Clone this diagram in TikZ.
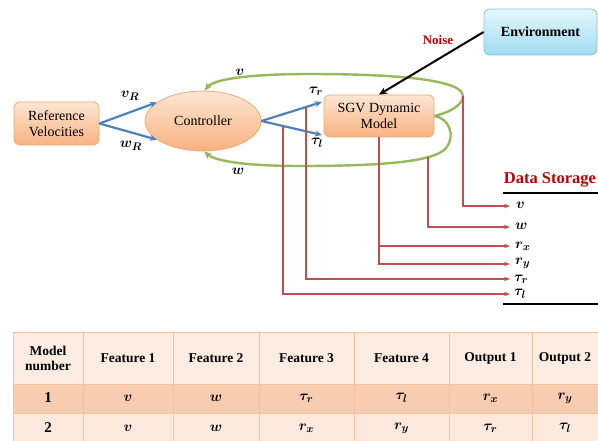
\documentclass[tikz,border=0pt]{standalone}
\usepackage{fontspec}
\setmainfont{Liberation Serif}
\usepackage{amsmath,bm}
\usetikzlibrary{arrows.meta,calc,shapes.geometric}
\definecolor{OrTop}{RGB}{253,230,212}
\definecolor{OrBot}{RGB}{247,178,128}
\definecolor{OrBorder}{RGB}{240,170,115}
\definecolor{BlTop}{RGB}{228,247,252}
\definecolor{BlBot}{RGB}{160,220,242}
\definecolor{BlBorder}{RGB}{125,195,225}
\definecolor{LineBlue}{RGB}{79,129,189}
\definecolor{LineGreen}{RGB}{150,185,90}
\definecolor{LineRed}{RGB}{192,80,77}
\definecolor{TxtRed}{RGB}{192,0,0}
\definecolor{TabHead}{RGB}{253,236,226}
\definecolor{TabRowA}{RGB}{248,204,176}
\definecolor{TabRowB}{RGB}{252,232,220}
\definecolor{TabGrid}{RGB}{244,195,158}
\begin{document}
\begin{tikzpicture}[x=1pt,y=-1pt,
  obox/.style={draw=OrBorder, line width=0.8pt, rounded corners=6pt, top color=OrTop, bottom color=OrBot, align=center, inner sep=0pt, font=\fontsize{14}{16}\selectfont},
  bbox/.style={draw=BlBorder, line width=0.8pt, rounded corners=6pt, top color=BlTop, bottom color=BlBot, align=center, inner sep=0pt, font=\fontsize{14}{16}\selectfont\bfseries},
  oell/.style={ellipse, draw=OrBorder, line width=0.8pt, top color=OrTop, bottom color=OrBot, inner sep=0pt, font=\fontsize{14}{16}\selectfont},
  bluearr/.style={draw=LineBlue, line width=2.2pt, -{Stealth[length=7pt,width=6pt]}},
  greenarr/.style={draw=LineGreen, line width=2.4pt, -{Stealth[length=8pt,width=7pt]}},
  redarr/.style={draw=LineRed, line width=1.5pt, -{Stealth[length=6pt,width=4.5pt]}},
  mlabel/.style={inner sep=0pt, font=\fontsize{15.5}{17}\selectfont},
  slabel/.style={inner sep=0pt, anchor=west, font=\fontsize{15}{17}\selectfont},
  thead/.style={align=center, inner sep=0pt, font=\fontsize{13.5}{15}\selectfont\bfseries},
  tcell/.style={inner sep=0pt, font=\fontsize{15}{17}\selectfont\bfseries}
]
\useasboundingbox (0,0) rectangle (598,441);
\begin{scope}
\clip (0,0) rectangle (598,441);

% ---------- nodes ----------
\node[obox, minimum width=85pt, minimum height=43pt] (ref) at (56.5,123.5) {Reference\\Velocities};
\node[oell, minimum width=116pt, minimum height=60pt] (ctrl) at (203,121) {Controller};
\node[obox, minimum width=110pt, minimum height=42pt] (sgv) at (379,116) {SGV Dynamic\\Model};
\node[bbox, minimum width=113pt, minimum height=46pt] (env) at (540.5,32) {Environment};

% ---------- coordinates ----------
\coordinate (tr) at (322,102);
\coordinate (tl) at (322,135);
\coordinate (vsrc) at (463,96);
\coordinate (wsrc) at (428,157);
\coordinate (trsrc) at ($(ctrl.east)!0.74!(tr)$);
\coordinate (tlsrc) at ($(ctrl.east)!0.355!(tl)$);
\coordinate (dv) at (510,206);
\coordinate (dw) at (510,227);
\coordinate (drx) at (510,246);
\coordinate (dry) at (510,264);
\coordinate (dtr) at (510,279);
\coordinate (dtl) at (510,294);

% ---------- blue arrows ----------
\draw[bluearr] (ref.east) -- (ctrl.158);
\draw[bluearr] (ref.east) -- (ctrl.202);
\draw[bluearr] (ctrl.east) -- (tr);
\draw[bluearr] (ctrl.east) -- (tl);
\node[mlabel] (lvr) at (130,96) {$\bm{v}_{\bm{R}}$};
\node[mlabel] (lwr) at (131,146) {$\bm{w}_{\bm{R}}$};
\node[mlabel] (ltr) at (316,91) {$\bm{\tau}_{\bm{r}}$};
\node[mlabel] (ltl) at (317,143) {$\bm{\tau}_{\bm{l}}$};

% ---------- green feedback loops ----------
\draw[greenarr] (sgv.east) .. controls (452,112) and (467,102) .. (462,93)
   .. controls (455,79) and (390,74) .. (310,74)
   .. controls (250,74) and (214,79) .. (ctrl.87);
\draw[greenarr] (sgv.east) .. controls (449,118) and (456,136) .. (446,148)
   .. controls (435,162) and (380,166) .. (300,166)
   .. controls (240,166) and (214,160) .. (ctrl.272);
\node[mlabel] (lv) at (240,72) {$\bm{v}$};
\node[mlabel] (lw) at (238,171) {$\bm{w}$};

% ---------- noise ----------
\draw[line width=2pt, -{Stealth[length=8pt,width=7pt]}] (env.west) -- (sgv.north);
\node[inner sep=0pt, text=TxtRed, font=\fontsize{13}{15}\selectfont\bfseries] (noise) at (438,40) {Noise};

% ---------- data storage ----------
\node[inner sep=0pt, text=TxtRed, font=\fontsize{16.5}{18}\selectfont\bfseries] (ds) at (550,180) {Data Storage};
\draw[line width=2.8pt] (503,193) -- (600,193);
\draw[line width=2.8pt] (503,304) -- (600,304);

\draw[redarr] (vsrc) |- (dv);
\draw[redarr] (wsrc) |- (dw);
\draw[redarr] (sgv.south) |- (drx);
\draw[redarr] (sgv.south) |- (dry);
\draw[redarr] (trsrc) |- (dtr);
\draw[redarr] (tlsrc) |- (dtl);

\node[slabel] (sv) at (516,205) {$\bm{v}$};
\node[slabel] (sw) at (515,226) {$\bm{w}$};
\node[slabel] (srx) at (515,246) {$\bm{r}_{\bm{x}}$};
\node[slabel] (sry) at (515,263) {$\bm{r}_{\bm{y}}$};
\node[slabel] (str) at (514,279) {$\bm{\tau}_{\bm{r}}$};
\node[slabel] (stl) at (514,294) {$\bm{\tau}_{\bm{l}}$};

% ---------- table ----------
\fill[TabHead] (13,332) rectangle (610,384);
\fill[TabRowA] (13,384) rectangle (610,413);
\fill[TabRowB] (13,413) rectangle (610,445);
\foreach \x in {13,83,173,259,354,449,532}
  \draw[TabGrid, line width=0.9pt] (\x,332) -- (\x,445);
\foreach \y in {332,384,413}
  \draw[TabGrid, line width=0.9pt] (13,\y) -- (610,\y);

\node[thead] (h0) at (48,358) {Model\\number};
\node[thead] (h1) at (128,358) {Feature 1};
\node[thead] (h2) at (216,358) {Feature 2};
\node[thead] (h3) at (306.5,358) {Feature 3};
\node[thead] (h4) at (401.5,358) {Feature 4};
\node[thead] (h5) at (490.5,358) {Output 1};
\node[thead] (h6) at (565,358) {Output 2};

\node[tcell] (a0) at (48,398) {1};
\node[tcell] (a1) at (128,398) {$\bm{v}$};
\node[tcell] (a2) at (216,398) {$\bm{w}$};
\node[tcell] (a3) at (306.5,398) {$\bm{\tau}_{\bm{r}}$};
\node[tcell] (a4) at (401.5,398) {$\bm{\tau}_{\bm{l}}$};
\node[tcell] (a5) at (490.5,398) {$\bm{r}_{\bm{x}}$};
\node[tcell] (a6) at (565,398) {$\bm{r}_{\bm{y}}$};

\node[tcell] (b0) at (48,428) {2};
\node[tcell] (b1) at (128,428) {$\bm{v}$};
\node[tcell] (b2) at (216,428) {$\bm{w}$};
\node[tcell] (b3) at (306.5,428) {$\bm{r}_{\bm{x}}$};
\node[tcell] (b4) at (401.5,428) {$\bm{r}_{\bm{y}}$};
\node[tcell] (b5) at (490.5,428) {$\bm{\tau}_{\bm{r}}$};
\node[tcell] (b6) at (565,428) {$\bm{\tau}_{\bm{l}}$};
\end{scope}
\end{tikzpicture}
\end{document}
